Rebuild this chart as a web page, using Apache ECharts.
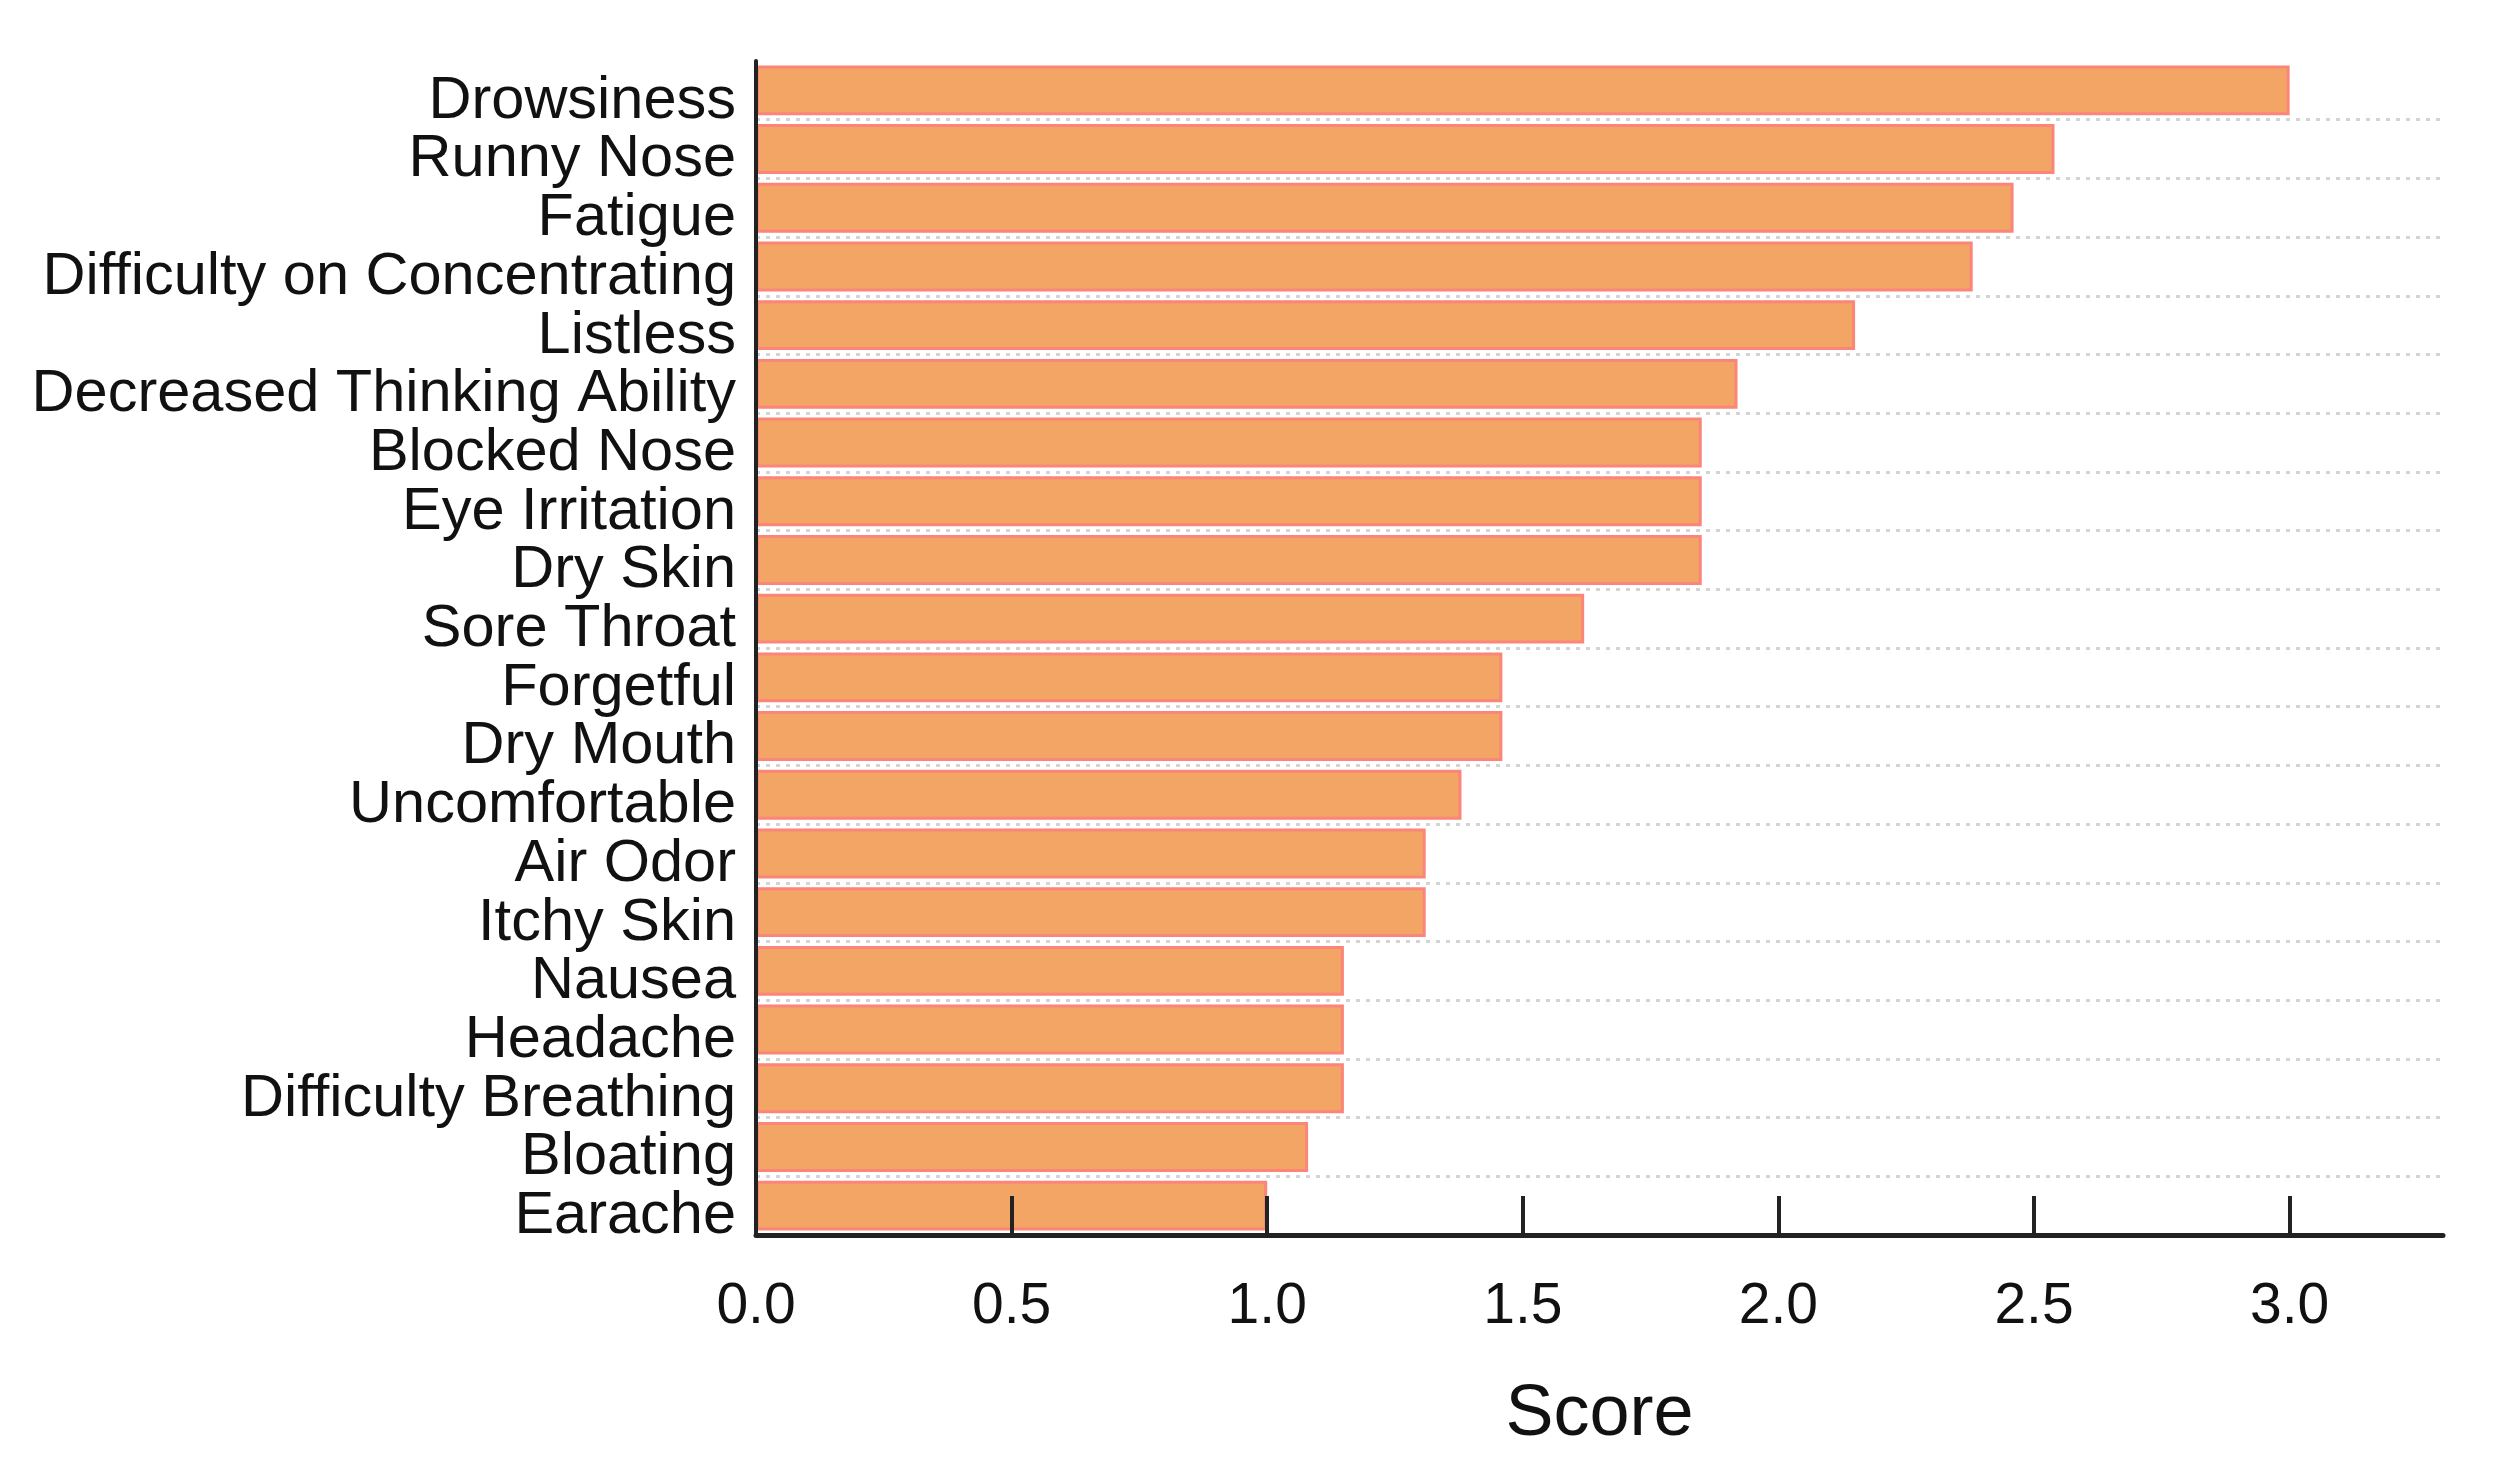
<!DOCTYPE html>
<html>
<head>
<meta charset="utf-8">
<script src="https://cdn.jsdelivr.net/npm/echarts@6/dist/echarts.min.js"></script>
<style>
html,body{margin:0;padding:0;background:#fff;}
#chart{width:2515px;height:1473px;}
</style>
</head>
<body>
<div id="chart"></div>
<script>
const categories = [
  "Drowsiness", "Runny Nose", "Fatigue", "Difficulty on Concentrating", "Listless",
  "Decreased Thinking Ability", "Blocked Nose", "Eye Irritation", "Dry Skin", "Sore Throat",
  "Forgetful", "Dry Mouth", "Uncomfortable", "Air Odor", "Itchy Skin",
  "Nausea", "Headache", "Difficulty Breathing", "Bloating", "Earache"
];
const scores = [
  3.00, 2.54, 2.46, 2.38, 2.15,
  1.92, 1.85, 1.85, 1.85, 1.62,
  1.46, 1.46, 1.38, 1.31, 1.31,
  1.15, 1.15, 1.15, 1.08, 1.00
];
const xTicks = [0.0, 0.5, 1.0, 1.5, 2.0, 2.5, 3.0];
const xName = "Score";

const FONT = "'Liberation Sans', Arial, Helvetica, sans-serif";
const chart = echarts.init(document.getElementById('chart'));
chart.setOption({
  backgroundColor: '#ffffff',
  animation: false,
  grid: { left: 756, right: 72, top: 61, bottom: 238, containLabel: false },
  xAxis: {
    type: 'value',
    min: 0,
    max: 3.3,
    interval: 0.5,
    z: 5,
    name: xName,
    nameLocation: 'middle',
    nameGap: 144,
    nameTextStyle: { fontFamily: FONT, fontSize: 72, color: '#111' },
    axisLine: { show: true, lineStyle: { color: '#222', width: 5 } },
    axisTick: { show: true, inside: true, length: 39, lineStyle: { color: '#222', width: 4 } },
    axisLabel: {
      fontFamily: FONT, fontSize: 57, color: '#111', margin: 44,
      showMaxLabel: false,
      formatter: function (v) {
        const t = xTicks.find(function (x) { return Math.abs(x - v) < 1e-9; });
        return t === undefined ? '' : t.toFixed(1);
      }
    },
    splitLine: { show: false }
  },
  yAxis: {
    type: 'category',
    data: categories,
    inverse: true,
    z: 5,
    axisLine: { show: true, lineStyle: { color: '#222', width: 4 } },
    axisTick: { show: false, interval: 0 },
    axisLabel: {
      fontFamily: FONT, fontSize: 59.5, color: '#111', margin: 20, interval: 0,
      verticalAlign: 'top', lineHeight: 22
    },
    splitLine: {
      show: true,
      interval: 0,
      showMinLine: false,
      showMaxLine: false,
      lineStyle: { color: '#d4d4d4', width: 3, type: [4, 6] }
    }
  },
  series: [{
    type: 'bar',
    data: scores,
    barCategoryGap: '15%',
    itemStyle: { color: '#F2A564', borderColor: '#FA8578', borderWidth: 3 },
    silent: true
  }]
});
</script>
</body>
</html>
